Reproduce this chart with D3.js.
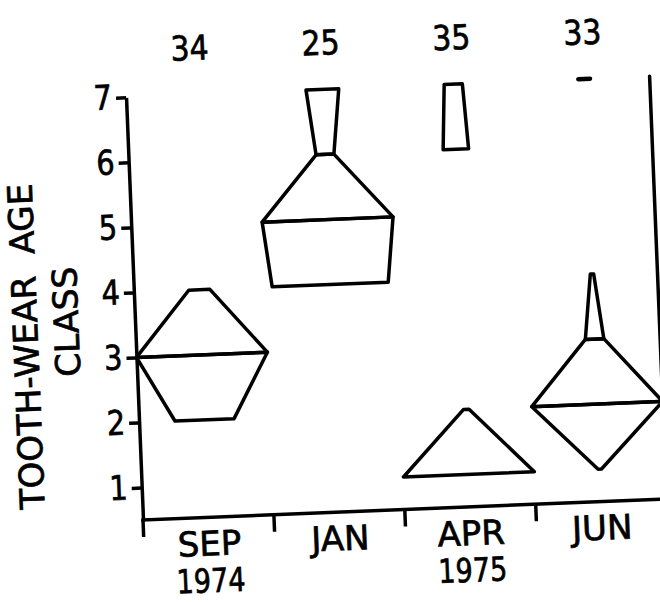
<!DOCTYPE html>
<html>
<head>
<meta charset="utf-8">
<script src="https://cdn.jsdelivr.net/npm/d3@7"></script>
<style>
  html, body { margin: 0; padding: 0; background: #fff; }
  svg { display: block; }
  text { font-family: "DejaVu Sans", "Noto Sans", sans-serif; fill: #000; stroke: #000; stroke-width: 0.7px; }
</style>
</head>
<body>
<svg id="chart" width="660" height="602"></svg>
<script>
// Sampling months and sample sizes
const months = ["SEP", "JAN", "APR", "JUN"];
const years = ["1974", "", "1975", ""];
const sampleSizes = [34, 25, 35, 33];
const ageClasses = [1, 2, 3, 4, 5, 6, 7];

// Percentage of each sample in tooth-wear age classes 1..7 (null = none)
const sepFreq = [null, 28, 62, 10, null, null, null];
const janFreq = [null, null, null, 39, 44, 6, 11];
const aprFreq = [72, 3, null, null, null, 14, 10];
const junFreq = [2, 78, 11, 2, null, null, 7];
const freqByMonth = [sepFreq, janFreq, aprFreq, junFreq];

const plotW = 524, plotH = 423;
const svg = d3.select("#chart");

// Origin at the lower-left corner of the frame; the figure sits slightly tilted
const g = svg.append("g")
  .attr("transform", "translate(143,520) rotate(-2.3)");

const x = d3.scaleBand().domain(months).range([0, plotW]);
const y = d3.scaleLinear().domain([0.5, 7]).range([0, -plotH]);
const bw = x.bandwidth();

const ink = "#000";
const lw = 3.5;

// squeeze digits horizontally
function squeeze(sel, sx) {
  sel.each(function () {
    const t = d3.select(this);
    const tx = +t.attr("x") || 0;
    const ty = +t.attr("y") || 0;
    t.attr("x", 0).attr("y", 0)
     .attr("transform", `translate(${tx},${ty}) scale(${sx},1)`);
  });
}

// Left axis
const yAxis = g.append("g")
  .call(d3.axisLeft(y).tickValues(ageClasses).tickSize(10).tickSizeOuter(0)
        .tickPadding(4).tickFormat(d3.format("d")));
yAxis.select(".domain").attr("stroke", ink).attr("stroke-width", lw);
yAxis.selectAll(".tick line").attr("stroke", ink).attr("stroke-width", lw);
yAxis.selectAll(".tick text").attr("font-size", 34).attr("fill", ink)
  .call(squeeze, 0.85);

// Bottom axis line and right frame edge
g.append("line").attr("x1", 0).attr("x2", plotW).attr("y1", y(0.5)).attr("y2", y(0.5))
  .attr("stroke", ink).attr("stroke-width", lw).attr("stroke-linecap", "square");
g.append("line").attr("x1", plotW).attr("x2", plotW).attr("y1", y(0.5)).attr("y2", y(7))
  .attr("stroke", ink).attr("stroke-width", lw).attr("stroke-linecap", "round");

// Month boundary ticks
g.selectAll(".mtick").data(months).join("line")
  .attr("class", "mtick")
  .attr("x1", d => x(d)).attr("x2", d => x(d))
  .attr("y1", y(0.5)).attr("y2", y(0.5) + 17)
  .attr("stroke", ink).attr("stroke-width", lw);

// Month and year labels
g.selectAll(".mlab").data(months).join("text")
  .attr("class", "mlab")
  .attr("text-anchor", "middle")
  .attr("font-size", 34)
  .attr("x", d => x(d) + bw / 2).attr("y", 26).attr("dy", "0.36em")
  .text(d => d);

g.selectAll(".ylab").data(months).join("text")
  .attr("class", "ylab")
  .attr("text-anchor", "middle")
  .attr("font-size", 33)
  .attr("x", d => x(d) + bw / 2).attr("y", 63).attr("dy", "0.36em")
  .text((d, i) => years[i])
  .call(squeeze, 0.82);

// Sample sizes along the top
g.selectAll(".nlab").data(months).join("text")
  .attr("class", "nlab")
  .attr("text-anchor", "middle")
  .attr("font-size", 34)
  .attr("x", d => x(d) + bw / 2).attr("y", -470).attr("dy", "0.36em")
  .text((d, i) => sampleSizes[i])
  .call(squeeze, 0.88);

// Axis title
g.append("text")
  .attr("transform", "translate(-110,-178) rotate(-90)")
  .attr("text-anchor", "middle").attr("dy", "0.36em")
  .attr("font-size", 34)
  .style("white-space", "pre")
  .text("TOOTH-WEAR  AGE");
g.append("text")
  .attr("transform", "translate(-69,-201) rotate(-90)")
  .attr("text-anchor", "middle").attr("dy", "0.36em")
  .attr("font-size", 34)
  .text("CLASS");

// Kite diagrams: width at each age class proportional to its share of the sample
const line = d3.line();
months.forEach((m, i) => {
  const freq = freqByMonth[i];
  const w = d3.scaleLinear().domain([0, d3.max(freq)]).range([0, bw]);
  const cx = x(m) + bw / 2;
  const kite = g.append("g").attr("class", "kite");

  // group consecutive occupied classes into runs
  const runs = [];
  let cur = [];
  ageClasses.forEach((c, k) => {
    if (freq[k] != null) cur.push(k);
    else if (cur.length) { runs.push(cur); cur = []; }
  });
  if (cur.length) runs.push(cur);

  runs.forEach(run => {
    if (run.length === 1) {
      const k = run[0], hw = w(freq[k]) / 2, yy = y(ageClasses[k]);
      kite.append("path")
        .attr("d", line([[cx - hw, yy], [cx + hw, yy]]))
        .attr("fill", "none").attr("stroke", ink).attr("stroke-width", lw + 1)
        .attr("stroke-linecap", "round");
      return;
    }
    for (let j = 0; j < run.length - 1; j++) {
      const a = run[j], b = run[j + 1];
      const ya = y(ageClasses[a]), yb = y(ageClasses[b]);
      const ha = w(freq[a]) / 2, hb = w(freq[b]) / 2;
      kite.append("path")
        .attr("d", line([[cx - ha, ya], [cx + ha, ya], [cx + hb, yb], [cx - hb, yb]]) + "Z")
        .attr("fill", "none").attr("stroke", ink).attr("stroke-width", lw)
        .attr("stroke-linejoin", "round");
    }
  });
});
</script>
</body>
</html>
